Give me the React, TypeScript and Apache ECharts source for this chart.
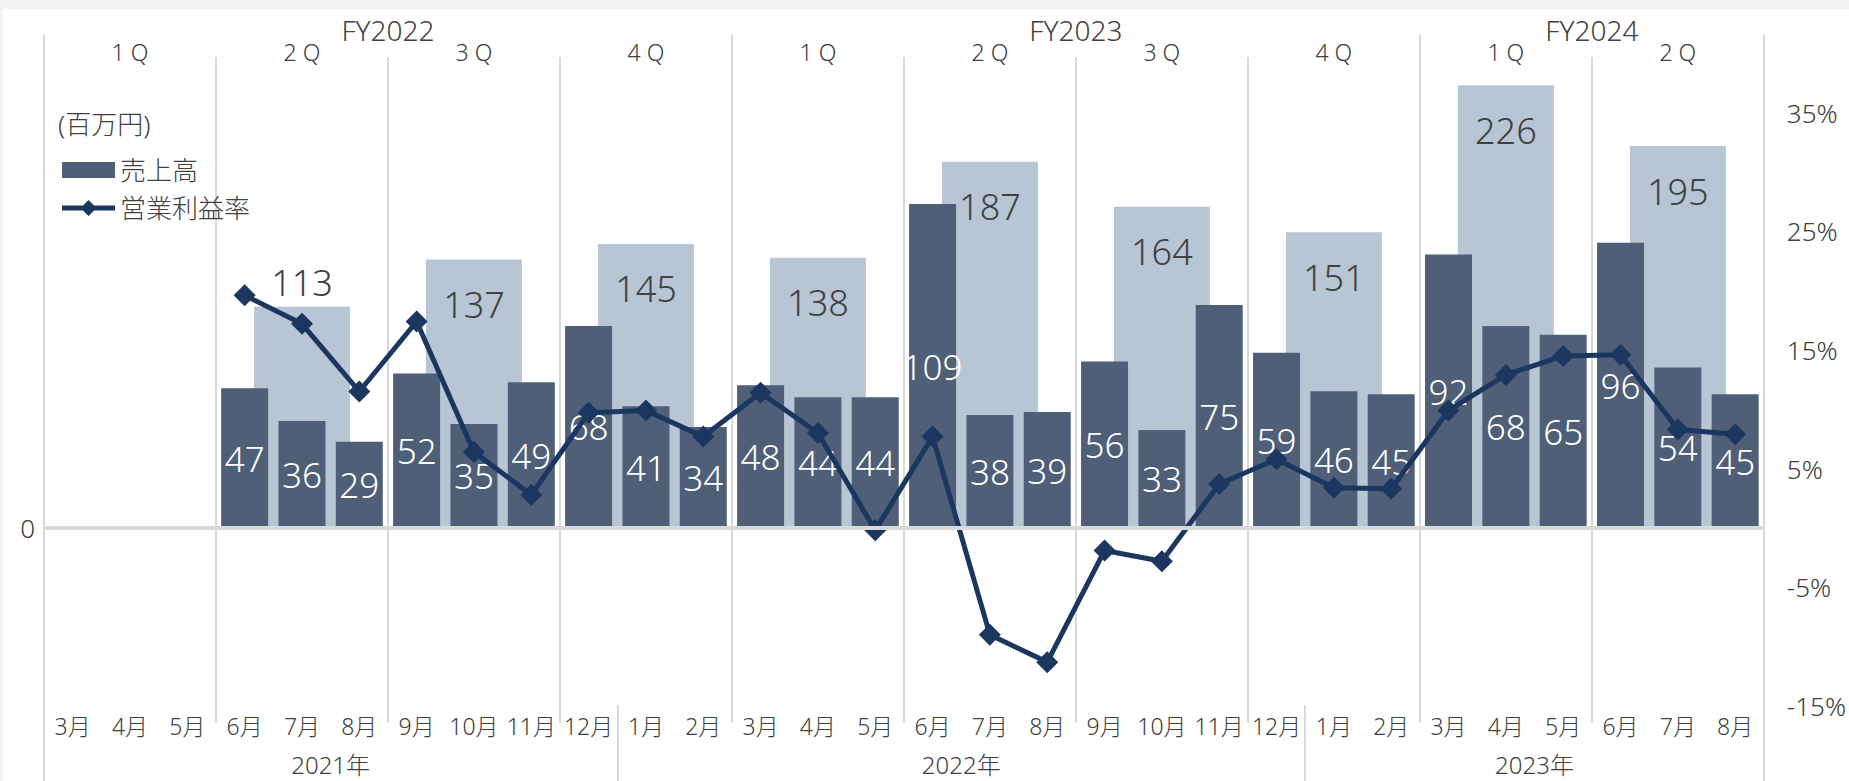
import React, { useEffect, useRef } from 'react';
import * as echarts from 'echarts';

// ---- data ----
const months = [
  '3月', '4月', '5月', '6月', '7月', '8月', '9月', '10月', '11月', '12月',
  '1月', '2月', '3月', '4月', '5月', '6月', '7月', '8月', '9月', '10月', '11月', '12月',
  '1月', '2月', '3月', '4月', '5月', '6月', '7月', '8月',
];
const quarters = ['1 Q', '2 Q', '3 Q', '4 Q', '1 Q', '2 Q', '3 Q', '4 Q', '1 Q', '2 Q'];
const fiscalYears = ['FY2022', 'FY2023', 'FY2024'];
const fiscalYearQuarterCounts = [4, 4, 2];
const calendarYears = ['2021年', '2022年', '2023年'];
const calendarYearMonthCounts = [10, 12, 8];

const monthlySales = [
  null, null, null, 47, 36, 29, 52, 35, 49, 68,
  41, 34, 48, 44, 44, 109, 38, 39, 56, 33, 75, 59,
  46, 45, 92, 68, 65, 96, 54, 45,
];
const quarterlySales = [null, 113, 137, 145, 138, 187, 164, 151, 226, 195];
const operatingMargin = [
  null, null, null, 19.6, 17.2, 11.5, 17.4, 6.4, 2.8, 9.7,
  9.9, 7.7, 11.4, 8.0, -0.2, 7.7, -9.0, -11.3, -1.9, -2.8, 3.7, 5.8,
  3.4, 3.3, 9.9, 12.9, 14.5, 14.6, 8.3, 7.9,
];
const marginTicks = [-15, -5, 5, 15, 25, 35];
const unitLabel = '(百万円)';

// ---- layout ----
const W = 1849;
const H = 781;
const GRID_LEFT = 44;
const GRID_RIGHT = 82;
const GRID_TOP = 57;
const GRID_BOTTOM_Y = 723;
const ZERO_Y = 528;
const PX_PER_PCT = 11.87;
const PX_PER_MONTHLY = 2.972;
const PX_PER_QUARTERLY = 1.959;

const FONT = "'Noto Sans', 'Noto Sans CJK JP', sans-serif";
const TEXT = '#404040';
const GRIDC = '#d9d9d9';
const LINE_COLOR = '#1b365f';
const LINE_ICON =
  'path://M0,5.5 H21 L26.5,0 L32,5.5 H53 V10.5 H32 L26.5,16 L21,10.5 H0 Z';

function cumulative(counts: number[], mult: number) {
  const b = [0];
  counts.forEach((c) => b.push(b[b.length - 1] + c * mult));
  return b;
}

export default function App() {
  const ref = useRef<HTMLDivElement>(null);
  useEffect(() => {
    const chart = echarts.init(ref.current!, null, { renderer: 'svg' });

    const above = ZERO_Y - GRID_TOP;
    const below = GRID_BOTTOM_Y - ZERO_Y;

    const fyBounds = cumulative(fiscalYearQuarterCounts, 3);
    const fyCenters = fiscalYears.map((_, i) => (fyBounds[i] + fyBounds[i + 1]) / 2);
    const yrBounds = cumulative(calendarYearMonthCounts, 1);
    const yrCenters = calendarYears.map((_, i) => (yrBounds[i] + yrBounds[i + 1]) / 2);

    const hiddenLine = { show: false, onZero: false };

    chart.setOption({
      animation: false,
      textStyle: { fontFamily: FONT },
      grid: {
        left: GRID_LEFT,
        right: GRID_RIGHT,
        top: GRID_TOP,
        bottom: H - GRID_BOTTOM_Y,
        containLabel: false,
      },
      legend: {
        data: [
          { name: '売上高', icon: 'rect' },
          { name: '営業利益率', icon: LINE_ICON, itemStyle: { color: LINE_COLOR } },
        ],
        orient: 'vertical',
        left: 57,
        top: 152,
        itemWidth: 53,
        itemHeight: 16,
        itemGap: 12,
        textStyle: { fontSize: 26, color: TEXT, fontFamily: FONT, fontWeight: 300 },
      },
      xAxis: [
        {
          type: 'category',
          data: months,
          position: 'bottom',
          boundaryGap: true,
          axisLine: hiddenLine,
          axisTick: { show: false },
          splitLine: { show: false },
          axisLabel: {
            interval: 0,
            margin: 3,
            verticalAlign: 'middle',
            fontSize: 23,
            color: TEXT,
            fontFamily: FONT,
            fontWeight: 300,
          },
        },
        {
          type: 'category',
          data: quarters,
          position: 'top',
          boundaryGap: true,
          axisLine: hiddenLine,
          axisTick: { show: false },
          splitLine: { show: true, interval: 0, lineStyle: { color: GRIDC, width: 2 } },
          axisLabel: {
            interval: 0,
            margin: 5,
            verticalAlign: 'middle',
            fontSize: 23,
            color: TEXT,
            fontFamily: FONT,
            fontWeight: 300,
          },
        },
        {
          type: 'value',
          min: 0,
          max: months.length,
          position: 'top',
          axisLine: hiddenLine,
          splitLine: { show: false },
          axisTick: {
            show: true,
            customValues: fyBounds,
            length: 22,
            lineStyle: { color: GRIDC, width: 2 },
          },
          axisLabel: {
            customValues: fyCenters,
            margin: 27,
            verticalAlign: 'middle',
            fontSize: 28,
            color: TEXT,
            fontFamily: FONT,
            fontWeight: 300,
            formatter: (v: number) => {
              const i = fyCenters.findIndex((c) => Math.abs(c - v) < 1e-6);
              return i >= 0 ? fiscalYears[i] : '';
            },
          },
        },
        {
          type: 'value',
          min: 0,
          max: months.length,
          position: 'bottom',
          offset: -18,
          axisLine: hiddenLine,
          splitLine: { show: false },
          axisTick: {
            show: true,
            customValues: yrBounds,
            length: 76,
            lineStyle: { color: GRIDC, width: 2 },
          },
          axisLabel: {
            customValues: yrCenters,
            margin: 59,
            verticalAlign: 'middle',
            fontSize: 24,
            color: TEXT,
            fontFamily: FONT,
            fontWeight: 300,
            formatter: (v: number) => {
              const i = yrCenters.findIndex((c) => Math.abs(c - v) < 1e-6);
              return i >= 0 ? calendarYears[i] : '';
            },
          },
        },
      ],
      yAxis: [
        {
          type: 'value',
          position: 'left',
          min: -below / PX_PER_MONTHLY,
          max: above / PX_PER_MONTHLY,
          axisLine: hiddenLine,
          axisTick: { show: false },
          splitLine: { show: false },
          axisLabel: {
            customValues: [0],
            margin: 9,
            fontSize: 26,
            color: TEXT,
            fontFamily: FONT,
            fontWeight: 300,
          },
        },
        {
          type: 'value',
          position: 'left',
          show: false,
          min: -below / PX_PER_QUARTERLY,
          max: above / PX_PER_QUARTERLY,
          axisLine: hiddenLine,
          splitLine: { show: false },
        },
        {
          type: 'value',
          position: 'right',
          min: -below / PX_PER_PCT,
          max: above / PX_PER_PCT,
          axisLine: hiddenLine,
          axisTick: { show: false },
          splitLine: { show: false },
          axisLabel: {
            customValues: marginTicks,
            formatter: '{value}%',
            margin: 23,
            fontSize: 26,
            color: TEXT,
            fontFamily: FONT,
            fontWeight: 300,
          },
        },
      ],
      graphic: [
        { type: 'rect', left: 0, top: 0, shape: { width: W, height: 9 }, style: { fill: '#f3f3f3' }, silent: true },
        { type: 'rect', left: 0, top: 0, shape: { width: 3, height: H }, style: { fill: '#f3f3f3' }, silent: true },
        {
          type: 'text',
          left: 58,
          top: 111,
          style: { text: unitLabel, fontSize: 26, fontFamily: FONT, fontWeight: 300, fill: TEXT },
        },
      ],
      series: [
        {
          name: '四半期売上高',
          type: 'bar',
          xAxisIndex: 1,
          yAxisIndex: 1,
          barWidth: 96,
          clip: false,
          itemStyle: { color: '#b8c5d5' },
          label: {
            show: true,
            position: 'insideTop',
            distance: 27,
            fontSize: 36,
            color: TEXT,
            fontFamily: FONT,
            fontWeight: 300,
          },
          data: quarterlySales.map((v, i) =>
            i === 1 ? { value: v, label: { position: 'top', distance: 6 } } : v
          ),
          markLine: {
            silent: true,
            symbol: ['none', 'none'],
            label: { show: false },
            lineStyle: { color: GRIDC, width: 4, type: 'solid' },
            data: [{ yAxis: 0 }],
          },
          z: 1,
        },
        {
          name: '売上高',
          type: 'bar',
          xAxisIndex: 0,
          yAxisIndex: 0,
          barWidth: 47,
          itemStyle: { color: '#4e5f77' },
          label: {
            show: true,
            position: 'inside',
            fontSize: 35,
            color: '#ffffff',
            fontFamily: FONT,
            fontWeight: 300,
          },
          data: monthlySales,
          z: 2,
        },
        {
          name: '営業利益率',
          type: 'line',
          xAxisIndex: 0,
          yAxisIndex: 2,
          symbol: 'diamond',
          symbolSize: 22,
          lineStyle: { color: LINE_COLOR, width: 5 },
          itemStyle: { color: LINE_COLOR },
          data: operatingMargin,
          z: 3,
        },
      ],
    });
    return () => chart.dispose();
  }, []);
  return (
    <div
      ref={ref}
      style={{ position: 'absolute', left: 0, top: 0, width: W, height: H, background: '#ffffff' }}
    />
  );
}
